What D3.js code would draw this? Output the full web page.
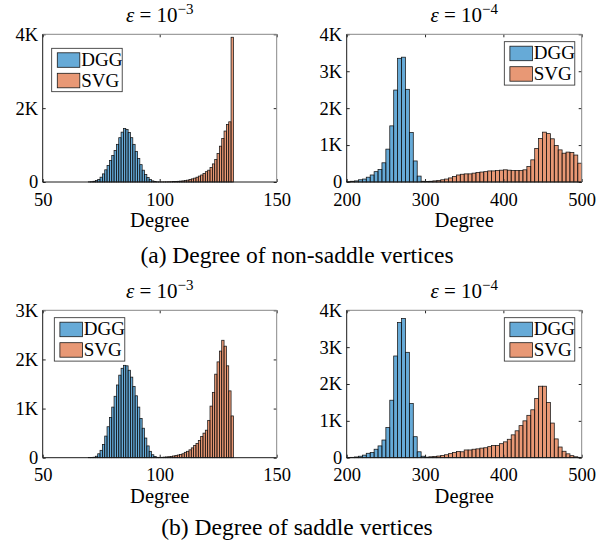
<!DOCTYPE html>
<html>
<head>
<meta charset="utf-8">
<script src="https://cdn.jsdelivr.net/npm/d3@7"></script>
<style>
  body { margin: 0; background: #fff; }
  svg { display: block; }
  text { font-family: "Liberation Serif", "Times New Roman", serif; fill: #000; }
</style>
</head>
<body>
<svg id="chart" width="596" height="549"></svg>
<script>
// ---- data (counts per degree bin) ----
// eps = 1e-3 panels: bins of width 1, given by their centre degree
const dggDegE3 = d3.range(70, 100);
const svgDegE3 = d3.range(100, 132);
// eps = 1e-4 panels: bins of width 5, given by their left edge
const dggDegE4 = d3.range(200, 300, 5);
const svgDegE4 = d3.range(300, 500, 5);

// (a) non-saddle vertices
const dggNonSaddleE3 = [5, 10, 20, 40, 70, 130, 220, 330, 450, 580, 720, 850, 1020, 1200, 1350,
  1450, 1420, 1340, 1200, 1020, 830, 640, 470, 320, 200, 120, 65, 30, 12, 5];
const svgNonSaddleE3 = [2, 3, 4, 5, 7, 9, 12, 15, 19, 24, 30, 40, 50, 65, 85, 105, 130, 160,
  190, 230, 280, 320, 390, 490, 610, 770, 970, 1180, 1380, 1560, 1630, 3920];
const dggNonSaddleE4 = [10, 20, 30, 60, 80, 130, 190, 280, 340, 520, 890, 1520, 2490, 3350,
  3380, 2510, 1340, 570, 160, 20];
const svgNonSaddleE4 = [15, 20, 30, 40, 60, 80, 110, 150, 190, 210, 220, 220, 240, 260, 270,
  280, 300, 300, 310, 320, 330, 320, 310, 310, 310, 330, 420, 600, 910, 1180, 1350, 1310,
  1170, 990, 870, 780, 810, 800, 730, 510];

// (b) saddle vertices
const dggSaddleE3 = [2, 5, 10, 30, 80, 150, 270, 440, 630, 820, 1030, 1250, 1480, 1680, 1820,
  1880, 1870, 1780, 1640, 1450, 1260, 1030, 800, 600, 400, 240, 130, 60, 25, 8];
const svgSaddleE3 = [5, 8, 12, 16, 20, 27, 35, 45, 55, 65, 80, 110, 130, 160, 200, 250, 290,
  350, 430, 500, 560, 760, 1050, 1330, 1700, 1950, 2170, 2390, 2270, 1870, 1360, 850];
const dggSaddleE4 = [5, 10, 20, 40, 70, 120, 140, 230, 320, 480, 820, 1560, 2760, 3670, 3780,
  2860, 1470, 570, 160, 40];
const svgSaddleE4 = [15, 25, 35, 45, 60, 80, 110, 140, 170, 160, 210, 210, 230, 240, 260, 270,
  300, 330, 330, 380, 430, 500, 620, 730, 870, 1000, 1150, 1300, 1610, 1940, 1940, 1500,
  940, 510, 290, 175, 105, 55, 25, 10];

const seriesNames = ["DGG", "SVG"];
const xTicksE3 = [50, 100, 150];
const xTicksE4 = [200, 300, 400, 500];
const captions = ["(a) Degree of non-saddle vertices", "(b) Degree of saddle vertices"];

// ---- layout ----
const colors = ["#0072BD", "#D95319"];
const svg = d3.select("#chart");

const panels = [
  { box: [42.7, 34.3, 276.7, 182], exp: "−3", dom: [50, 150], xt: xTicksE3, yMax: 4000, yt: [0, 2000, 4000],
    bins: [dggDegE3, svgDegE3], vals: [dggNonSaddleE3, svgNonSaddleE3], bw: 1, centred: true, leg: [51.7, 48.3] },
  { box: [346.7, 34.3, 581.7, 182], exp: "−4", dom: [200, 500], xt: xTicksE4, yMax: 4000, yt: [0, 1000, 2000, 3000, 4000],
    bins: [dggDegE4, svgDegE4], vals: [dggNonSaddleE4, svgNonSaddleE4], bw: 5, centred: false, leg: [504.3, 41.7] },
  { box: [42.7, 310.3, 276.7, 457.7], exp: "−3", dom: [50, 150], xt: xTicksE3, yMax: 3000, yt: [0, 1000, 2000, 3000],
    bins: [dggDegE3, svgDegE3], vals: [dggSaddleE3, svgSaddleE3], bw: 1, centred: true, leg: [54.3, 317.7] },
  { box: [346.7, 310.3, 581.7, 457.7], exp: "−4", dom: [200, 500], xt: xTicksE4, yMax: 4000, yt: [0, 1000, 2000, 3000, 4000],
    bins: [dggDegE4, svgDegE4], vals: [dggSaddleE4, svgSaddleE4], bw: 5, centred: false, leg: [504.3, 317.7] }
];

const kFormat = d => d === 0 ? "0" : (d / 1000) + "K";

panels.forEach(p => {
  const [x0, y0, x1, y1] = p.box;
  const x = d3.scaleLinear().domain(p.dom).range([x0, x1]);
  const y = d3.scaleLinear().domain([0, p.yMax]).range([y1, y0]);
  const g = svg.append("g");

  // histograms, DGG first, SVG drawn over it
  p.vals.forEach((vals, si) => {
    const bins = p.bins[si];
    const lo = b => p.centred ? b - p.bw / 2 : b;
    g.append("g").selectAll("rect")
      .data(vals)
      .join("rect")
      .attr("x", (d, i) => x(lo(bins[i])))
      .attr("width", (d, i) => x(lo(bins[i]) + p.bw) - x(lo(bins[i])))
      .attr("y", d => y(d))
      .attr("height", d => y(0) - y(d))
      .attr("fill", colors[si])
      .attr("fill-opacity", 0.6)
      .attr("stroke", "#141414")
      .attr("stroke-width", 0.75);
  });

  // axes with inward ticks on all four sides
  const styleAxis = sel => {
    sel.select(".domain").remove();
    sel.selectAll(".tick line").attr("stroke", "#262626");
    sel.selectAll("text").style("font-family", '"Liberation Serif", serif').style("font-size", "18.5px").attr("fill", "#000");
  };
  g.append("g").attr("transform", `translate(0,${y1})`)
    .call(d3.axisBottom(x).tickValues(p.xt).tickSizeInner(-3).tickSizeOuter(0).tickPadding(10.5))
    .call(styleAxis);
  g.append("g").attr("transform", `translate(0,${y0})`)
    .call(d3.axisTop(x).tickValues(p.xt).tickSizeInner(-3).tickSizeOuter(0).tickFormat(""))
    .call(styleAxis);
  g.append("g").attr("transform", `translate(${x0},0)`)
    .call(d3.axisLeft(y).tickValues(p.yt).tickSizeInner(-3).tickSizeOuter(0).tickPadding(4.5).tickFormat(kFormat))
    .call(styleAxis);
  g.append("g").attr("transform", `translate(${x1},0)`)
    .call(d3.axisRight(y).tickValues(p.yt).tickSizeInner(-3).tickSizeOuter(0).tickFormat(""))
    .call(styleAxis);

  // box: dark left/bottom, lighter top/right
  g.append("path").attr("d", `M${x0},${y0}H${x1}V${y1}`).attr("fill", "none").attr("stroke", "#888").attr("stroke-width", 1);
  g.append("path").attr("d", `M${x0},${y0}V${y1}H${x1}`).attr("fill", "none").attr("stroke", "#1a1a1a").attr("stroke-width", 1);

  // title  ε = 10^exp
  const t = g.append("text").attr("x", (x0 + x1) / 2).attr("y", y0 - 12.5).attr("text-anchor", "middle").style("font-size", "21px");
  t.append("tspan").style("font-style", "italic").text("ε");
  t.append("tspan").text(" = 10");
  t.append("tspan").attr("dy", -8).style("font-size", "15px").text(p.exp);

  // x label
  g.append("text").attr("x", (x0 + x1) / 2).attr("y", y1 + 45).attr("text-anchor", "middle")
    .style("font-size", "20.5px").text("Degree");

  // legend
  const [lx, ly] = p.leg;
  const lg = g.append("g").attr("transform", `translate(${lx},${ly})`);
  lg.append("rect").attr("width", 70.5).attr("height", 43.4).attr("fill", "#fff").attr("stroke", "#262626").attr("stroke-width", 0.8);
  seriesNames.forEach((name, i) => {
    lg.append("rect").attr("x", 5.6).attr("y", 4.5 + i * 20.5).attr("width", 22.5).attr("height", 14.5)
      .attr("fill", colors[i]).attr("fill-opacity", 0.6).attr("stroke", "#1a1a1a").attr("stroke-width", 0.8);
    lg.append("text").attr("x", 29.5).attr("y", 17.8 + i * 20.5).style("font-size", "19px").text(name);
  });
});

// captions
svg.selectAll("text.caption")
  .data(captions)
  .join("text")
  .attr("class", "caption")
  .attr("x", 297)
  .attr("y", (d, i) => i === 0 ? 263 : 535)
  .attr("text-anchor", "middle")
  .style("font-size", "23.5px")
  .text(d => d);
</script>
</body>
</html>
